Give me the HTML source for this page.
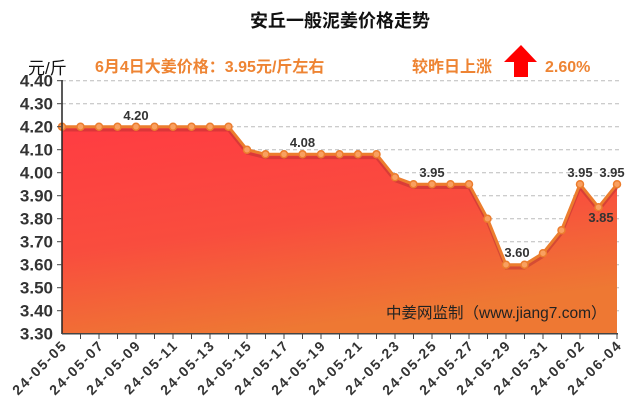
<!DOCTYPE html>
<html><head><meta charset="utf-8"><style>
body{margin:0;background:#fff;width:640px;height:410px;overflow:hidden}
svg text{font-family:"Liberation Sans","Noto Sans CJK SC",sans-serif}
</style></head><body>
<svg width="640" height="410" viewBox="0 0 640 410">
<defs>
<linearGradient id="g" x1="0" y1="0" x2="0.35" y2="1">
<stop offset="0" stop-color="#ff3c42"/><stop offset="0.55" stop-color="#f94d3e"/><stop offset="1" stop-color="#ee7833"/>
</linearGradient>
</defs>
<text x="340" y="27" text-anchor="middle" font-size="18" font-weight="bold" fill="#111">安丘一般泥姜价格走势</text>
<text x="28" y="74" font-size="17" fill="#111">元/斤</text>
<text x="95" y="72" font-size="16" font-weight="bold" fill="#ee8433">6月4日大姜价格：3.95元/斤左右</text>
<text x="412" y="72" font-size="16" font-weight="bold" fill="#ee8433">较昨日上涨</text>
<polygon points="521,45 537,62 528,62 528,77 514,77 514,62 504,62" fill="#ff0000"/>
<text x="545" y="72" font-size="16" font-weight="bold" fill="#ee8433">2.60%</text>
<g stroke="#bbb" stroke-dasharray="4,3" stroke-width="1">
<line x1="62" x2="620" y1="80.7" y2="80.7"/><line x1="62" x2="620" y1="103.7" y2="103.7"/><line x1="62" x2="620" y1="126.7" y2="126.7"/><line x1="62" x2="620" y1="149.7" y2="149.7"/><line x1="62" x2="620" y1="172.7" y2="172.7"/><line x1="62" x2="620" y1="195.7" y2="195.7"/><line x1="62" x2="620" y1="218.7" y2="218.7"/><line x1="62" x2="620" y1="241.7" y2="241.7"/><line x1="62" x2="620" y1="264.7" y2="264.7"/><line x1="62" x2="620" y1="287.7" y2="287.7"/><line x1="62" x2="620" y1="310.7" y2="310.7"/>
</g>
<polygon fill="url(#g)" points="62,333.7 62,126.7 228.5,126.7 247,149.7 265.5,154.3 376.5,154.3 395,177.3 413.5,184.2 469,184.2 487.5,218.7 506,264.7 524.5,264.7 543,253.2 561.5,230.2 580,184.2 598.5,207.2 617,184.2 617,333.7"/>
<polyline fill="none" stroke="#b83030" stroke-width="3" opacity="0.5" points="62,130 228.5,130 247,153 265.5,157.6 376.5,157.6 395,180.6 413.5,187.5 469,187.5 487.5,222 506,268 524.5,268 543,256.5 561.5,233.5 580,187.5 598.5,210.5 617,187.5"/>
<polyline fill="none" stroke="#ec7d2e" stroke-width="3" points="62,126.7 228.5,126.7 247,149.7 265.5,154.3 376.5,154.3 395,177.3 413.5,184.2 469,184.2 487.5,218.7 506,264.7 524.5,264.7 543,253.2 561.5,230.2 580,184.2 598.5,207.2 617,184.2"/>
<g fill="#f9a060" stroke="#ec7d2e" stroke-width="1.5">
<circle cx="62" cy="126.7" r="3.5"/><circle cx="80.5" cy="126.7" r="3.5"/><circle cx="99" cy="126.7" r="3.5"/><circle cx="117.5" cy="126.7" r="3.5"/><circle cx="136" cy="126.7" r="3.5"/><circle cx="154.5" cy="126.7" r="3.5"/><circle cx="173" cy="126.7" r="3.5"/><circle cx="191.5" cy="126.7" r="3.5"/><circle cx="210" cy="126.7" r="3.5"/><circle cx="228.5" cy="126.7" r="3.5"/>
<circle cx="247" cy="149.7" r="3.5"/><circle cx="265.5" cy="154.3" r="3.5"/><circle cx="284" cy="154.3" r="3.5"/><circle cx="302.5" cy="154.3" r="3.5"/><circle cx="321" cy="154.3" r="3.5"/><circle cx="339.5" cy="154.3" r="3.5"/><circle cx="358" cy="154.3" r="3.5"/><circle cx="376.5" cy="154.3" r="3.5"/>
<circle cx="395" cy="177.3" r="3.5"/><circle cx="413.5" cy="184.2" r="3.5"/><circle cx="432" cy="184.2" r="3.5"/><circle cx="450.5" cy="184.2" r="3.5"/><circle cx="469" cy="184.2" r="3.5"/><circle cx="487.5" cy="218.7" r="3.5"/><circle cx="506" cy="264.7" r="3.5"/><circle cx="524.5" cy="264.7" r="3.5"/><circle cx="543" cy="253.2" r="3.5"/><circle cx="561.5" cy="230.2" r="3.5"/><circle cx="580" cy="184.2" r="3.5"/><circle cx="598.5" cy="207.2" r="3.5"/><circle cx="617" cy="184.2" r="3.5"/>
</g>
<g font-size="13" font-weight="bold" fill="#333" text-anchor="middle">
<text x="136" y="120">4.20</text><text x="302.5" y="147">4.08</text><text x="432" y="177">3.95</text><text x="517" y="257">3.60</text><text x="580" y="177">3.95</text><text x="612" y="177">3.95</text><text x="601" y="222">3.85</text>
</g>
<text x="386" y="318" font-size="15.5" fill="#222">中姜网监制（www.jiang7.com）</text>
<line x1="62" y1="80" x2="62" y2="334" stroke="#222" stroke-width="1.5"/>
<line x1="62" y1="333.7" x2="618" y2="333.7" stroke="#444" stroke-width="1.5"/>
<g stroke="#444" stroke-width="1">
<line x1="62" x2="57" y1="80.7" y2="80.7"/><line x1="62" x2="57" y1="103.7" y2="103.7"/><line x1="62" x2="57" y1="126.7" y2="126.7"/><line x1="62" x2="57" y1="149.7" y2="149.7"/><line x1="62" x2="57" y1="172.7" y2="172.7"/><line x1="62" x2="57" y1="195.7" y2="195.7"/><line x1="62" x2="57" y1="218.7" y2="218.7"/><line x1="62" x2="57" y1="241.7" y2="241.7"/><line x1="62" x2="57" y1="264.7" y2="264.7"/><line x1="62" x2="57" y1="287.7" y2="287.7"/><line x1="62" x2="57" y1="310.7" y2="310.7"/>
<line x1="80.5" x2="80.5" y1="334" y2="339"/><line x1="99" x2="99" y1="334" y2="339"/><line x1="117.5" x2="117.5" y1="334" y2="339"/><line x1="136" x2="136" y1="334" y2="339"/><line x1="154.5" x2="154.5" y1="334" y2="339"/><line x1="173" x2="173" y1="334" y2="339"/><line x1="191.5" x2="191.5" y1="334" y2="339"/><line x1="210" x2="210" y1="334" y2="339"/><line x1="228.5" x2="228.5" y1="334" y2="339"/><line x1="247" x2="247" y1="334" y2="339"/><line x1="265.5" x2="265.5" y1="334" y2="339"/><line x1="284" x2="284" y1="334" y2="339"/><line x1="302.5" x2="302.5" y1="334" y2="339"/><line x1="321" x2="321" y1="334" y2="339"/><line x1="339.5" x2="339.5" y1="334" y2="339"/><line x1="358" x2="358" y1="334" y2="339"/><line x1="376.5" x2="376.5" y1="334" y2="339"/><line x1="395" x2="395" y1="334" y2="339"/><line x1="413.5" x2="413.5" y1="334" y2="339"/><line x1="432" x2="432" y1="334" y2="339"/><line x1="450.5" x2="450.5" y1="334" y2="339"/><line x1="469" x2="469" y1="334" y2="339"/><line x1="487.5" x2="487.5" y1="334" y2="339"/><line x1="506" x2="506" y1="334" y2="339"/><line x1="524.5" x2="524.5" y1="334" y2="339"/><line x1="543" x2="543" y1="334" y2="339"/><line x1="561.5" x2="561.5" y1="334" y2="339"/><line x1="580" x2="580" y1="334" y2="339"/><line x1="598.5" x2="598.5" y1="334" y2="339"/><line x1="617" x2="617" y1="334" y2="339"/>
</g>
<g font-size="17" font-weight="bold" fill="#333" text-anchor="end">
<text x="53" y="86.5">4.40</text><text x="53" y="109.5">4.30</text><text x="53" y="132.5">4.20</text><text x="53" y="155.5">4.10</text><text x="53" y="178.5">4.00</text><text x="53" y="201.5">3.90</text><text x="53" y="224.5">3.80</text><text x="53" y="247.5">3.70</text><text x="53" y="270.5">3.60</text><text x="53" y="293.5">3.50</text><text x="53" y="316.5">3.40</text><text x="53" y="339.5">3.30</text>
</g>
<g font-size="14" font-weight="bold" fill="#333" text-anchor="end" letter-spacing="1.8">
<text transform="translate(68,346) rotate(-45)">24-05-05</text>
<text transform="translate(105,346) rotate(-45)">24-05-07</text>
<text transform="translate(142,346) rotate(-45)">24-05-09</text>
<text transform="translate(179,346) rotate(-45)">24-05-11</text>
<text transform="translate(216,346) rotate(-45)">24-05-13</text>
<text transform="translate(253,346) rotate(-45)">24-05-15</text>
<text transform="translate(290,346) rotate(-45)">24-05-17</text>
<text transform="translate(327,346) rotate(-45)">24-05-19</text>
<text transform="translate(364,346) rotate(-45)">24-05-21</text>
<text transform="translate(401,346) rotate(-45)">24-05-23</text>
<text transform="translate(438,346) rotate(-45)">24-05-25</text>
<text transform="translate(475,346) rotate(-45)">24-05-27</text>
<text transform="translate(512,346) rotate(-45)">24-05-29</text>
<text transform="translate(549,346) rotate(-45)">24-05-31</text>
<text transform="translate(586,346) rotate(-45)">24-06-02</text>
<text transform="translate(623,346) rotate(-45)">24-06-04</text>
</g>
</svg>
</body></html>
